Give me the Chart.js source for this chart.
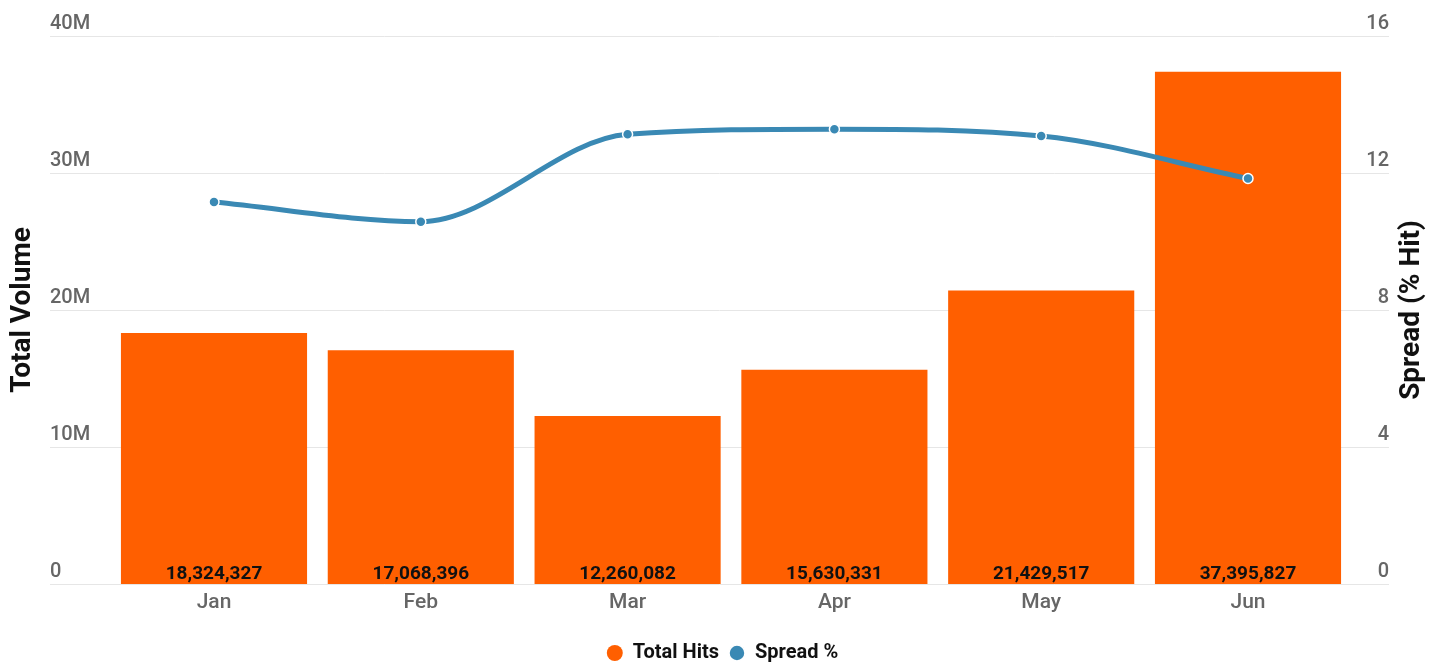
<!DOCTYPE html>
<html lang="en">
<head>
    <meta charset="UTF-8">
    <title>Total Hits and Spread %</title>
    <script src="https://cdn.jsdelivr.net/npm/chart.js"></script>
    <style>
        html, body { margin: 0; padding: 0; background: #fff; }
        #wrap { width: 1445px; height: 665px; }
    </style>
</head>
<body>
    <div id="wrap"><canvas id="chart"></canvas></div>

    <script>
        // Data
        const months = ['Jan', 'Feb', 'Mar', 'Apr', 'May', 'Jun'];
        const totalHits = [18324327, 17068396, 12260082, 15630331, 21429517, 37395827];
        const spreadPct = [11.15, 10.58, 13.13, 13.28, 13.08, 11.84];
        const volumeTicks = [0, 10000000, 20000000, 30000000, 40000000];
        const volumeTickLabels = ['0', '10M', '20M', '30M', '40M'];
        const spreadTicks = [0, 4, 8, 12, 16];

        const FONT = 'Roboto, "Noto Sans", sans-serif';
        const ORANGE = '#ff5f00';
        const BLUE = '#3a89b4';

        // Grid lines and tick labels sit above the lines and run wider than the plot
        const gridPlugin = {
            id: 'gridPlugin',
            beforeDatasetsDraw(chart) {
                const ctx = chart.ctx;
                const yL = chart.scales.y;
                const yR = chart.scales.y1;
                const x0 = 50, x1 = 1389;
                ctx.save();
                ctx.strokeStyle = '#e6e6e6';
                ctx.lineWidth = 1;
                volumeTicks.forEach(v => {
                    const y = Math.round(yL.getPixelForValue(v)) + 0.5;
                    ctx.beginPath();
                    ctx.moveTo(x0, y);
                    ctx.lineTo(x1, y);
                    ctx.stroke();
                });
                ctx.fillStyle = '#666';
                ctx.font = '500 20px ' + FONT;
                ctx.textBaseline = 'alphabetic';
                ctx.textAlign = 'left';
                volumeTicks.forEach((v, i) => {
                    ctx.fillText(volumeTickLabels[i], x0, yL.getPixelForValue(v) - 7);
                });
                ctx.textAlign = 'right';
                spreadTicks.forEach(v => {
                    ctx.fillText(String(v), x1, yR.getPixelForValue(v) - 7);
                });
                // right axis title, reading bottom to top
                ctx.fillStyle = '#111';
                ctx.font = 'bold 28px ' + FONT;
                ctx.textAlign = 'center';
                ctx.textBaseline = 'middle';
                ctx.translate(1412, (chart.chartArea.top + chart.chartArea.bottom) / 2);
                ctx.rotate(-Math.PI / 2);
                ctx.fillText('Spread (% Hit)', 0, 0);
                ctx.restore();
            }
        };

        // Value labels inside the bars, at the bottom
        const barLabels = {
            id: 'barLabels',
            afterDatasetsDraw(chart) {
                const ctx = chart.ctx;
                const meta = chart.getDatasetMeta(0);
                ctx.save();
                ctx.fillStyle = '#111';
                ctx.font = 'bold 19px ' + FONT;
                ctx.textAlign = 'center';
                ctx.textBaseline = 'alphabetic';
                meta.data.forEach((bar, i) => {
                    ctx.fillText(totalHits[i].toLocaleString('en-US'), bar.x, bar.base - 5);
                });
                ctx.restore();
            }
        };

        new Chart(document.getElementById('chart').getContext('2d'), {
            type: 'bar',
            data: {
                labels: months,
                datasets: [
                    {
                        type: 'bar',
                        label: 'Total Hits',
                        data: totalHits,
                        backgroundColor: ORANGE,
                        borderWidth: 0,
                        yAxisID: 'y',
                        order: 2,
                        barPercentage: 0.9,
                        categoryPercentage: 1.0
                    },
                    {
                        type: 'line',
                        label: 'Spread %',
                        data: spreadPct,
                        borderColor: BLUE,
                        backgroundColor: BLUE,
                        borderWidth: 5,
                        pointRadius: 5,
                        pointBorderWidth: 1.5,
                        pointBorderColor: '#fff',
                        pointBackgroundColor: BLUE,
                        cubicInterpolationMode: 'monotone',
                        yAxisID: 'y1',
                        order: 1
                    }
                ]
            },
            options: {
                responsive: true,
                maintainAspectRatio: false,
                animation: false,
                layout: { padding: { top: 36, left: 0, right: 0, bottom: -8 } },
                plugins: {
                    legend: {
                        position: 'bottom',
                        labels: {
                            usePointStyle: true,
                            pointStyle: 'circle',
                            boxWidth: 16,
                            boxHeight: 11.3,
                            padding: 10,
                            color: '#111',
                            font: { family: FONT, size: 20, weight: 'bold' },
                            sort: (a, b) => a.datasetIndex - b.datasetIndex
                        }
                    },
                    tooltip: { enabled: false }
                },
                scales: {
                    x: {
                        grid: { display: false },
                        border: { display: false },
                        ticks: { color: '#666', padding: -1.5, font: { family: FONT, size: 21, weight: '500' } },
                        afterFit(scale) { scale.height = 49; }
                    },
                    y: {
                        position: 'left',
                        min: 0,
                        max: 40000000,
                        grid: { display: false },
                        border: { display: false },
                        ticks: { display: false },
                        title: {
                            display: true,
                            text: 'Total Volume',
                            color: '#111',
                            padding: { top: 6, bottom: 0 },
                            font: { family: FONT, size: 28, weight: 'bold' }
                        },
                        afterFit(scale) { scale.width = 110.6; }
                    },
                    y1: {
                        position: 'right',
                        min: 0,
                        max: 16,
                        grid: { display: false },
                        border: { display: false },
                        ticks: { display: false },
                        afterFit(scale) { scale.width = 93.6; }
                    }
                }
            },
            plugins: [gridPlugin, barLabels]
        });
    </script>
</body>
</html>
